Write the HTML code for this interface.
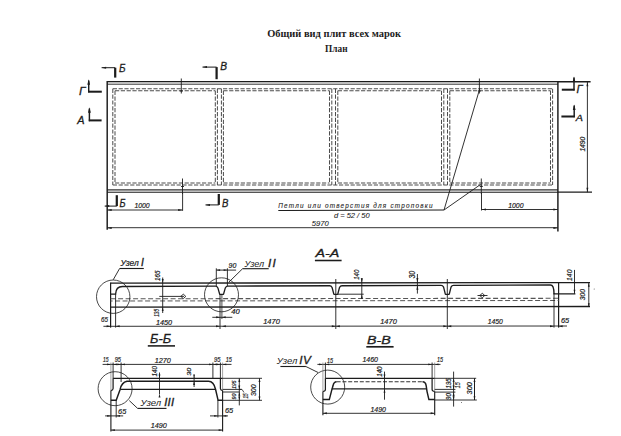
<!DOCTYPE html>
<html><head><meta charset="utf-8"><title>Общий вид плит всех марок</title>
<style>
html,body{margin:0;padding:0;background:#fff;}
body{width:621px;height:436px;overflow:hidden;font-family:"Liberation Sans",sans-serif;}
svg{display:block;}

</style></head>
<body>
<svg width="621" height="436" viewBox="0 0 621 436">
<text x="267.2" y="36.7" font-family="Liberation Serif" font-style="normal" font-weight="bold" font-size="10" fill="#1c1c1c" textLength="133.8" lengthAdjust="spacingAndGlyphs">Общий вид плит всех марок</text>
<text x="325.1" y="51.7" font-family="Liberation Serif" font-style="normal" font-weight="bold" font-size="10.16" fill="#1c1c1c" textLength="22.4" lengthAdjust="spacingAndGlyphs">План</text>
<line x1="107.2" y1="81.7" x2="590.6" y2="81.7" stroke="#1c1c1c" stroke-width="1.57"/>
<line x1="107.2" y1="84.2" x2="557.9" y2="84.2" stroke="#444" stroke-width="1.34"/>
<rect x="107.2" y="82.3" width="450.7" height="1.3" fill="#cfcfcf"/>
<line x1="107.2" y1="190" x2="557.9" y2="190" stroke="#333" stroke-width="1.34"/>
<line x1="107.2" y1="192.2" x2="592" y2="192.2" stroke="#1c1c1c" stroke-width="1.34"/>
<rect x="107.2" y="190.6" width="450.7" height="1" fill="#dddddd"/>
<line x1="107.2" y1="81.1" x2="107.2" y2="229.8" stroke="#1c1c1c" stroke-width="1.46"/>
<line x1="557.9" y1="81.1" x2="557.9" y2="231.5" stroke="#1c1c1c" stroke-width="1.46"/>
<line x1="112.8" y1="88.8" x2="552.6" y2="88.8" stroke="#4c4c4c" stroke-width="1.01" stroke-dasharray="4.2 1.6"/>
<line x1="112.8" y1="185" x2="552.6" y2="185" stroke="#4c4c4c" stroke-width="1.01" stroke-dasharray="4.2 1.6"/>
<line x1="112.8" y1="88.8" x2="112.8" y2="185" stroke="#4c4c4c" stroke-width="1.01" stroke-dasharray="4.2 1.6"/>
<line x1="552.6" y1="88.8" x2="552.6" y2="185" stroke="#4c4c4c" stroke-width="1.01" stroke-dasharray="4.2 1.6"/>
<line x1="115" y1="90.7" x2="215.3" y2="90.7" stroke="#4c4c4c" stroke-width="1.01" stroke-dasharray="4.2 1.6"/>
<line x1="115" y1="183" x2="215.3" y2="183" stroke="#4c4c4c" stroke-width="1.01" stroke-dasharray="4.2 1.6"/>
<line x1="115" y1="90.7" x2="115" y2="183" stroke="#4c4c4c" stroke-width="1.01" stroke-dasharray="4.2 1.6"/>
<line x1="215.3" y1="90.7" x2="215.3" y2="183" stroke="#4c4c4c" stroke-width="1.01" stroke-dasharray="4.2 1.6"/>
<line x1="223.4" y1="90.7" x2="329.5" y2="90.7" stroke="#4c4c4c" stroke-width="1.01" stroke-dasharray="4.2 1.6"/>
<line x1="223.4" y1="183" x2="329.5" y2="183" stroke="#4c4c4c" stroke-width="1.01" stroke-dasharray="4.2 1.6"/>
<line x1="223.4" y1="90.7" x2="223.4" y2="183" stroke="#4c4c4c" stroke-width="1.01" stroke-dasharray="4.2 1.6"/>
<line x1="329.5" y1="90.7" x2="329.5" y2="183" stroke="#4c4c4c" stroke-width="1.01" stroke-dasharray="4.2 1.6"/>
<line x1="337.8" y1="90.7" x2="441.5" y2="90.7" stroke="#4c4c4c" stroke-width="1.01" stroke-dasharray="4.2 1.6"/>
<line x1="337.8" y1="183" x2="441.5" y2="183" stroke="#4c4c4c" stroke-width="1.01" stroke-dasharray="4.2 1.6"/>
<line x1="337.8" y1="90.7" x2="337.8" y2="183" stroke="#4c4c4c" stroke-width="1.01" stroke-dasharray="4.2 1.6"/>
<line x1="441.5" y1="90.7" x2="441.5" y2="183" stroke="#4c4c4c" stroke-width="1.01" stroke-dasharray="4.2 1.6"/>
<line x1="449.8" y1="90.7" x2="550.5" y2="90.7" stroke="#4c4c4c" stroke-width="1.01" stroke-dasharray="4.2 1.6"/>
<line x1="449.8" y1="183" x2="550.5" y2="183" stroke="#4c4c4c" stroke-width="1.01" stroke-dasharray="4.2 1.6"/>
<line x1="449.8" y1="90.7" x2="449.8" y2="183" stroke="#4c4c4c" stroke-width="1.01" stroke-dasharray="4.2 1.6"/>
<line x1="550.5" y1="90.7" x2="550.5" y2="183" stroke="#4c4c4c" stroke-width="1.01" stroke-dasharray="4.2 1.6"/>
<line x1="217.4" y1="88.8" x2="217.4" y2="185" stroke="#4c4c4c" stroke-width="1.01" stroke-dasharray="4.2 1.6"/>
<line x1="221.4" y1="88.8" x2="221.4" y2="185" stroke="#4c4c4c" stroke-width="1.01" stroke-dasharray="4.2 1.6"/>
<line x1="331.8" y1="88.8" x2="331.8" y2="185" stroke="#4c4c4c" stroke-width="1.01" stroke-dasharray="4.2 1.6"/>
<line x1="335.5" y1="88.8" x2="335.5" y2="185" stroke="#4c4c4c" stroke-width="1.01" stroke-dasharray="4.2 1.6"/>
<line x1="443.8" y1="88.8" x2="443.8" y2="185" stroke="#4c4c4c" stroke-width="1.01" stroke-dasharray="4.2 1.6"/>
<line x1="447.5" y1="88.8" x2="447.5" y2="185" stroke="#4c4c4c" stroke-width="1.01" stroke-dasharray="4.2 1.6"/>
<line x1="181.3" y1="78.5" x2="181.3" y2="93.5" stroke="#1c1c1c" stroke-width="0.9"/>
<line x1="179.8" y1="91" x2="182.8" y2="91" stroke="#1c1c1c" stroke-width="0.9"/>
<line x1="479.4" y1="78.5" x2="479.4" y2="93.5" stroke="#1c1c1c" stroke-width="0.9"/>
<line x1="477.9" y1="91" x2="480.9" y2="91" stroke="#1c1c1c" stroke-width="0.9"/>
<line x1="182.5" y1="178.5" x2="182.5" y2="194" stroke="#1c1c1c" stroke-width="0.9"/>
<line x1="181" y1="186.5" x2="184" y2="186.5" stroke="#1c1c1c" stroke-width="0.9"/>
<line x1="481.3" y1="178.5" x2="481.3" y2="194" stroke="#1c1c1c" stroke-width="0.9"/>
<line x1="479.8" y1="186.5" x2="482.8" y2="186.5" stroke="#1c1c1c" stroke-width="0.9"/>
<line x1="101.6" y1="67.7" x2="115.2" y2="67.7" stroke="#1c1c1c" stroke-width="1.01"/>
<polygon points="101.6,67.7 106.1,66.7 106.1,68.7" fill="#1c1c1c"/>
<line x1="115.2" y1="67.7" x2="115.2" y2="77.6" stroke="#1c1c1c" stroke-width="2.24"/>
<text x="119" y="71.5" font-family="Liberation Sans" font-style="italic" font-weight="normal" font-size="11.81" fill="#1c1c1c" stroke="#1c1c1c" stroke-width="0.3" textLength="6.6" lengthAdjust="spacingAndGlyphs">Б</text>
<line x1="202.5" y1="67.1" x2="216.6" y2="67.1" stroke="#1c1c1c" stroke-width="1.01"/>
<polygon points="202.5,67.1 207,66.1 207,68.1" fill="#1c1c1c"/>
<line x1="216.6" y1="67.1" x2="216.6" y2="79.2" stroke="#1c1c1c" stroke-width="2.24"/>
<text x="220.2" y="70.3" font-family="Liberation Sans" font-style="italic" font-weight="normal" font-size="11.25" fill="#1c1c1c" stroke="#1c1c1c" stroke-width="0.3" textLength="6.8" lengthAdjust="spacingAndGlyphs">В</text>
<line x1="116.8" y1="195.2" x2="116.8" y2="206.1" stroke="#1c1c1c" stroke-width="2.24"/>
<line x1="104.7" y1="206.1" x2="116.8" y2="206.1" stroke="#1c1c1c" stroke-width="1.01"/>
<polygon points="104.7,206.1 109.2,205.1 109.2,207.1" fill="#1c1c1c"/>
<text x="119.6" y="206.9" font-family="Liberation Sans" font-style="italic" font-weight="normal" font-size="11.53" fill="#1c1c1c" stroke="#1c1c1c" stroke-width="0.3" textLength="6.1" lengthAdjust="spacingAndGlyphs">Б</text>
<line x1="218.8" y1="194" x2="218.8" y2="204.9" stroke="#1c1c1c" stroke-width="2.24"/>
<line x1="205.5" y1="204.9" x2="218.8" y2="204.9" stroke="#1c1c1c" stroke-width="1.01"/>
<polygon points="205.5,204.9 210,203.9 210,205.9" fill="#1c1c1c"/>
<text x="222" y="207.3" font-family="Liberation Sans" font-style="italic" font-weight="normal" font-size="11.67" fill="#1c1c1c" stroke="#1c1c1c" stroke-width="0.3" textLength="6.4" lengthAdjust="spacingAndGlyphs">В</text>
<line x1="88.7" y1="80.5" x2="88.7" y2="92.4" stroke="#1c1c1c" stroke-width="1.46"/>
<polygon points="88.7,79.2 87.3,84.7 90.1,84.7" fill="#1c1c1c"/>
<line x1="88.1" y1="91.7" x2="101.8" y2="91.7" stroke="#1c1c1c" stroke-width="2.02"/>
<text x="78.9" y="94.6" font-family="Liberation Sans" font-style="italic" font-weight="normal" font-size="11.11" fill="#1c1c1c" stroke="#1c1c1c" stroke-width="0.3" textLength="6.4" lengthAdjust="spacingAndGlyphs">Г</text>
<line x1="89.4" y1="108.5" x2="89.4" y2="121.2" stroke="#1c1c1c" stroke-width="1.46"/>
<polygon points="89.4,107.3 88,112.8 90.8,112.8" fill="#1c1c1c"/>
<line x1="88.8" y1="120.4" x2="101.6" y2="120.4" stroke="#1c1c1c" stroke-width="2.02"/>
<text x="77.2" y="124.4" font-family="Liberation Sans" font-style="italic" font-weight="normal" font-size="11.11" fill="#1c1c1c" stroke="#1c1c1c" stroke-width="0.3" textLength="7.3" lengthAdjust="spacingAndGlyphs">А</text>
<line x1="574" y1="77.5" x2="574" y2="90.5" stroke="#1c1c1c" stroke-width="1.46"/>
<polygon points="574,76.4 572.6,81.9 575.4,81.9" fill="#1c1c1c"/>
<line x1="561.8" y1="89.7" x2="574.6" y2="89.7" stroke="#1c1c1c" stroke-width="2.02"/>
<text x="576.5" y="93" font-family="Liberation Sans" font-style="italic" font-weight="normal" font-size="11.11" fill="#1c1c1c" stroke="#1c1c1c" stroke-width="0.3" textLength="6" lengthAdjust="spacingAndGlyphs">Г</text>
<line x1="574.2" y1="105.5" x2="574.2" y2="117.3" stroke="#1c1c1c" stroke-width="1.46"/>
<polygon points="574.2,104.4 572.8,109.9 575.6,109.9" fill="#1c1c1c"/>
<line x1="561.4" y1="116.5" x2="574.8" y2="116.5" stroke="#1c1c1c" stroke-width="2.02"/>
<text x="575.8" y="120.6" font-family="Liberation Sans" font-style="italic" font-weight="normal" font-size="9.44" fill="#1c1c1c" stroke="#1c1c1c" stroke-width="0.3" textLength="7.2" lengthAdjust="spacingAndGlyphs">А</text>
<line x1="587.4" y1="81.7" x2="587.4" y2="192.2" stroke="#1c1c1c" stroke-width="0.9"/>
<polygon points="587.4,81.7 586.45,86.2 588.35,86.2" fill="#1c1c1c"/>
<polygon points="587.4,192.2 586.45,187.7 588.35,187.7" fill="#1c1c1c"/>
<text transform="translate(585 151.6) rotate(-90)" x="0" y="0" font-family="Liberation Sans" font-style="italic" font-weight="normal" font-size="6.94" fill="#1c1c1c" stroke="#1c1c1c" stroke-width="0.2" textLength="14.9" lengthAdjust="spacingAndGlyphs">1490</text>
<line x1="182.6" y1="193" x2="182.6" y2="210.8" stroke="#1c1c1c" stroke-width="0.9"/>
<line x1="107.2" y1="210" x2="182.6" y2="210" stroke="#1c1c1c" stroke-width="0.9"/>
<polygon points="107.2,210 111.7,209.05 111.7,210.95" fill="#1c1c1c"/>
<polygon points="182.6,210 178.1,209.05 178.1,210.95" fill="#1c1c1c"/>
<text x="134.4" y="207.7" font-family="Liberation Sans" font-style="italic" font-weight="normal" font-size="7.92" fill="#1c1c1c" stroke="#1c1c1c" stroke-width="0.2" textLength="15.3" lengthAdjust="spacingAndGlyphs">1000</text>
<line x1="481.5" y1="193" x2="481.5" y2="210.5" stroke="#1c1c1c" stroke-width="0.9"/>
<line x1="481.5" y1="209.5" x2="557.9" y2="209.5" stroke="#1c1c1c" stroke-width="0.9"/>
<polygon points="481.5,209.5 486,208.55 486,210.45" fill="#1c1c1c"/>
<polygon points="557.9,209.5 553.4,208.55 553.4,210.45" fill="#1c1c1c"/>
<text x="508.2" y="207.7" font-family="Liberation Sans" font-style="italic" font-weight="normal" font-size="7.92" fill="#1c1c1c" stroke="#1c1c1c" stroke-width="0.2" textLength="15.3" lengthAdjust="spacingAndGlyphs">1000</text>
<line x1="107.2" y1="227.7" x2="557.9" y2="227.7" stroke="#1c1c1c" stroke-width="0.9"/>
<polygon points="107.2,228 111.7,227.05 111.7,228.95" fill="#1c1c1c"/>
<polygon points="557.9,228 553.4,227.05 553.4,228.95" fill="#1c1c1c"/>
<text x="311.8" y="225.9" font-family="Liberation Sans" font-style="italic" font-weight="normal" font-size="8.06" fill="#1c1c1c" stroke="#1c1c1c" stroke-width="0.1" textLength="17.1" lengthAdjust="spacingAndGlyphs">5970</text>
<text x="278.3" y="207.6" font-family="Liberation Sans" font-style="italic" font-weight="normal" font-size="6.39" fill="#1c1c1c" stroke="#1c1c1c" stroke-width="0.1" textLength="154.2" lengthAdjust="spacing">Петли или отверстия для строповки</text>
<line x1="278.3" y1="210.5" x2="444" y2="210" stroke="#1c1c1c" stroke-width="1.01"/>
<line x1="444" y1="210" x2="479.8" y2="88.5" stroke="#1c1c1c" stroke-width="0.9"/>
<line x1="444" y1="210" x2="480.5" y2="184.5" stroke="#1c1c1c" stroke-width="0.9"/>
<text x="333.9" y="217.7" font-family="Liberation Sans" font-style="italic" font-weight="normal" font-size="7.36" fill="#1c1c1c" stroke="#1c1c1c" stroke-width="0.1" textLength="35.8" lengthAdjust="spacingAndGlyphs">d = 52 / 50</text>
<line x1="110.6" y1="283.2" x2="590" y2="282.6" stroke="#1c1c1c" stroke-width="1.34"/>
<line x1="110.6" y1="307.2" x2="590" y2="306.5" stroke="#1c1c1c" stroke-width="1.34"/>
<line x1="110.6" y1="282.5" x2="110.6" y2="327.6" stroke="#1c1c1c" stroke-width="1.23"/>
<line x1="558.6" y1="282.2" x2="558.6" y2="327.6" stroke="#1c1c1c" stroke-width="1.23"/>
<path d="M 110.6 294.1 L 115.6 294.1 Q 115.8 286.48 122.5 286.46 L 215.4 286.13 Q 217 286.13 217.9 287.93 L 219.5 293.6 Q 219.6 294.3 220 294.3 L 223.2 294.3 Q 223.6 294.3 223.7 293.6 L 225.3 287.93 Q 226.2 286.13 227.8 286.13 L 329.6 285.74 Q 331.2 285.74 332.1 287.54 L 333.7 293.6 Q 333.8 294.3 334.2 294.3 L 337.4 294.3 Q 337.8 294.3 337.9 293.6 L 339.5 287.54 Q 340.4 285.74 342 285.74 L 441.1 285.37 Q 442.7 285.37 443.6 287.17 L 445.2 293.6 Q 445.3 294.3 445.7 294.3 L 448.9 294.3 Q 449.3 294.3 449.4 293.6 L 451 287.17 Q 451.9 285.37 453.5 285.37 L 550.5 285.03 Q 554 285.03 554 293.8 L 575.4 293.8" stroke="#1c1c1c" stroke-width="1.34" fill="none"/>
<line x1="110.6" y1="298.8" x2="558.6" y2="298.3" stroke="#555" stroke-width="1.12" stroke-dasharray="5 2.5"/>
<line x1="110.6" y1="301.0" x2="558.6" y2="300.5" stroke="#555" stroke-width="1" stroke-dasharray="5 2.5" stroke-dashoffset="3"/>
<line x1="115.6" y1="294" x2="115.6" y2="327.6" stroke="#1c1c1c" stroke-width="0.9"/>
<line x1="554" y1="293" x2="554" y2="327.6" stroke="#1c1c1c" stroke-width="0.9"/>
<line x1="220" y1="294" x2="220" y2="329" stroke="#1c1c1c" stroke-width="0.9"/>
<line x1="221.9" y1="294" x2="221.9" y2="319" stroke="#1c1c1c" stroke-width="0.78"/>
<line x1="335.8" y1="279" x2="335.8" y2="329" stroke="#1c1c1c" stroke-width="0.9"/>
<line x1="447.3" y1="279" x2="447.3" y2="329" stroke="#1c1c1c" stroke-width="0.9"/>
<line x1="216.3" y1="268.3" x2="216.3" y2="286" stroke="#1c1c1c" stroke-width="0.9"/>
<line x1="227.4" y1="268.3" x2="227.4" y2="286" stroke="#1c1c1c" stroke-width="0.9"/>
<line x1="216.3" y1="270.1" x2="236.1" y2="270.1" stroke="#1c1c1c" stroke-width="0.9"/>
<polygon points="216.3,270.1 220.1,269.15 220.1,271.05" fill="#1c1c1c"/>
<polygon points="227.4,270.1 223.6,269.15 223.6,271.05" fill="#1c1c1c"/>
<text x="228.6" y="267.8" font-family="Liberation Sans" font-style="italic" font-weight="normal" font-size="7.22" fill="#1c1c1c" stroke="#1c1c1c" stroke-width="0.2" textLength="7.7" lengthAdjust="spacingAndGlyphs">90</text>
<line x1="212.3" y1="317.3" x2="232.3" y2="317.3" stroke="#1c1c1c" stroke-width="0.9"/>
<polygon points="220,317.3 216.2,316.35 216.2,318.25" fill="#1c1c1c"/>
<polygon points="221.9,317.3 225.7,316.35 225.7,318.25" fill="#1c1c1c"/>
<text x="231.2" y="313.9" font-family="Liberation Sans" font-style="italic" font-weight="normal" font-size="6.39" fill="#1c1c1c" stroke="#1c1c1c" stroke-width="0.2" textLength="8.4" lengthAdjust="spacingAndGlyphs">40</text>
<circle cx="113.2" cy="296.7" r="16.7" stroke="#1c1c1c" stroke-width="0.8" fill="none"/>
<circle cx="221.5" cy="294.8" r="17" stroke="#1c1c1c" stroke-width="0.8" fill="none"/>
<line x1="119.6" y1="268.5" x2="143.8" y2="268.5" stroke="#1c1c1c" stroke-width="1.12"/>
<line x1="119.6" y1="268.5" x2="113.2" y2="279.8" stroke="#1c1c1c" stroke-width="0.9"/>
<text x="120.4" y="265.8" font-family="Liberation Sans" font-style="italic" font-weight="normal" font-size="8.19" fill="#1c1c1c" stroke="#1c1c1c" stroke-width="0.2" textLength="18.3" lengthAdjust="spacingAndGlyphs">Узел</text>
<text x="141" y="265.8" font-family="Liberation Sans" font-style="italic" font-weight="normal" font-size="10.28" fill="#1c1c1c" stroke="#1c1c1c" stroke-width="0.35" textLength="3.6" lengthAdjust="spacing">I</text>
<line x1="242.6" y1="268.7" x2="268.7" y2="268.7" stroke="#1c1c1c" stroke-width="1.12"/>
<line x1="242.6" y1="268.7" x2="228.9" y2="282.1" stroke="#1c1c1c" stroke-width="0.9"/>
<text x="244.5" y="266.6" font-family="Liberation Sans" font-style="italic" font-weight="normal" font-size="9.44" fill="#1c1c1c" textLength="19.7" lengthAdjust="spacingAndGlyphs">Узел</text>
<text x="268" y="266.9" font-family="Liberation Sans" font-style="italic" font-weight="normal" font-size="11.67" fill="#1c1c1c" stroke="#1c1c1c" stroke-width="0.35" textLength="7.8" lengthAdjust="spacing">II</text>
<text x="315.5" y="256.8" font-family="Liberation Sans" font-style="italic" font-weight="normal" font-size="10.97" fill="#1c1c1c" stroke="#1c1c1c" stroke-width="0.3" textLength="23.8" lengthAdjust="spacingAndGlyphs">А-А</text>
<line x1="314.9" y1="260.5" x2="341.6" y2="260.5" stroke="#1c1c1c" stroke-width="1.57"/>
<line x1="162.7" y1="277.5" x2="162.7" y2="313" stroke="#1c1c1c" stroke-width="0.9"/>
<polygon points="162.7,283 161.75,279 163.65,279" fill="#1c1c1c"/>
<polygon points="162.7,307 161.75,311 163.65,311" fill="#1c1c1c"/>
<line x1="159.3" y1="296.4" x2="184" y2="296.4" stroke="#1c1c1c" stroke-width="0.9"/>
<path d="M 180.8 296.4 L 183.3 294.2 L 185.8 296.4 L 183.3 298.6 Z" stroke="#1c1c1c" stroke-width="0.9" fill="none"/>
<text transform="translate(159.9 280.9) rotate(-90)" x="0" y="0" font-family="Liberation Sans" font-style="italic" font-weight="normal" font-size="7.92" fill="#1c1c1c" stroke="#1c1c1c" stroke-width="0.2" textLength="10.3" lengthAdjust="spacingAndGlyphs">165</text>
<text transform="translate(159 316.8) rotate(-90)" x="0" y="0" font-family="Liberation Sans" font-style="italic" font-weight="normal" font-size="6.81" fill="#1c1c1c" stroke="#1c1c1c" stroke-width="0.2" textLength="7.8" lengthAdjust="spacingAndGlyphs">135</text>
<path d="M 479.8 295.5 L 482.3 293.3 L 484.8 295.5 L 482.3 297.7 Z" stroke="#1c1c1c" stroke-width="0.9" fill="none"/>
<line x1="477.5" y1="295.5" x2="487.5" y2="295.5" stroke="#1c1c1c" stroke-width="0.9"/>
<line x1="337.8" y1="294.2" x2="363.7" y2="294.2" stroke="#1c1c1c" stroke-width="0.9"/>
<line x1="361.8" y1="278.1" x2="361.8" y2="298.1" stroke="#1c1c1c" stroke-width="0.9"/>
<polygon points="361.8,282.8 360.8,278.3 362.8,278.3" fill="#1c1c1c"/>
<polygon points="361.8,294.2 360.8,298.7 362.8,298.7" fill="#1c1c1c"/>
<text transform="translate(359 279.8) rotate(-90)" x="0" y="0" font-family="Liberation Sans" font-style="italic" font-weight="normal" font-size="7.92" fill="#1c1c1c" stroke="#1c1c1c" stroke-width="0.2" textLength="10.1" lengthAdjust="spacingAndGlyphs">140</text>
<line x1="417.4" y1="274" x2="417.4" y2="293.6" stroke="#1c1c1c" stroke-width="0.9"/>
<polygon points="417.4,282.6 416.4,278.1 418.4,278.1" fill="#1c1c1c"/>
<polygon points="417.4,285.2 416.4,289.7 418.4,289.7" fill="#1c1c1c"/>
<text transform="translate(415 278.6) rotate(-90)" x="0" y="0" font-family="Liberation Sans" font-style="italic" font-weight="normal" font-size="8.33" fill="#1c1c1c" stroke="#1c1c1c" stroke-width="0.2" textLength="7.8" lengthAdjust="spacingAndGlyphs">30</text>
<line x1="574.5" y1="269.9" x2="574.5" y2="293.8" stroke="#1c1c1c" stroke-width="0.9"/>
<polygon points="574.5,293.8 573.55,289.8 575.45,289.8" fill="#1c1c1c"/>
<text transform="translate(572.2 280.9) rotate(-90)" x="0" y="0" font-family="Liberation Sans" font-style="italic" font-weight="normal" font-size="7.78" fill="#1c1c1c" stroke="#1c1c1c" stroke-width="0.2" textLength="11.3" lengthAdjust="spacingAndGlyphs">140</text>
<line x1="588.8" y1="283" x2="588.8" y2="307" stroke="#1c1c1c" stroke-width="0.9"/>
<polygon points="588.8,283 587.85,286.8 589.75,286.8" fill="#1c1c1c"/>
<polygon points="588.8,307 587.85,303.2 589.75,303.2" fill="#1c1c1c"/>
<text transform="translate(585 300.2) rotate(-90)" x="0" y="0" font-family="Liberation Sans" font-style="italic" font-weight="normal" font-size="6.67" fill="#1c1c1c" stroke="#1c1c1c" stroke-width="0.2" textLength="11.3" lengthAdjust="spacingAndGlyphs">300</text>
<circle cx="594.2" cy="289" r="0.5" fill="#555"/>
<line x1="103.4" y1="326.3" x2="567" y2="326" stroke="#1c1c1c" stroke-width="0.9"/>
<polygon points="110.6,326.3 106.6,325.35 106.6,327.25" fill="#1c1c1c"/>
<polygon points="115.6,326.3 119.6,325.35 119.6,327.25" fill="#1c1c1c"/>
<polygon points="220,326.3 216,325.35 216,327.25" fill="#1c1c1c"/>
<polygon points="221.9,326.3 225.9,325.35 225.9,327.25" fill="#1c1c1c"/>
<polygon points="335.8,326.3 331.8,325.35 331.8,327.25" fill="#1c1c1c"/>
<polygon points="335.8,326.3 339.8,325.35 339.8,327.25" fill="#1c1c1c"/>
<polygon points="447.3,326.3 443.3,325.35 443.3,327.25" fill="#1c1c1c"/>
<polygon points="447.3,326.3 451.3,325.35 451.3,327.25" fill="#1c1c1c"/>
<polygon points="554,326.3 550,325.35 550,327.25" fill="#1c1c1c"/>
<polygon points="558.6,326.3 562.6,325.35 562.6,327.25" fill="#1c1c1c"/>
<text x="101" y="321.8" font-family="Liberation Sans" font-style="italic" font-weight="normal" font-size="6.94" fill="#1c1c1c" stroke="#1c1c1c" stroke-width="0.2" textLength="6.9" lengthAdjust="spacingAndGlyphs">65</text>
<text x="156" y="324.7" font-family="Liberation Sans" font-style="italic" font-weight="normal" font-size="6.81" fill="#1c1c1c" stroke="#1c1c1c" stroke-width="0.2" textLength="16.1" lengthAdjust="spacingAndGlyphs">1450</text>
<text x="263.2" y="323.7" font-family="Liberation Sans" font-style="italic" font-weight="normal" font-size="7.92" fill="#1c1c1c" stroke="#1c1c1c" stroke-width="0.2" textLength="16.7" lengthAdjust="spacingAndGlyphs">1470</text>
<text x="380.2" y="323.7" font-family="Liberation Sans" font-style="italic" font-weight="normal" font-size="7.92" fill="#1c1c1c" stroke="#1c1c1c" stroke-width="0.2" textLength="16.6" lengthAdjust="spacingAndGlyphs">1470</text>
<text x="487.8" y="323.7" font-family="Liberation Sans" font-style="italic" font-weight="normal" font-size="7.64" fill="#1c1c1c" stroke="#1c1c1c" stroke-width="0.2" textLength="15.1" lengthAdjust="spacingAndGlyphs">1450</text>
<text x="561" y="322.7" font-family="Liberation Sans" font-style="italic" font-weight="normal" font-size="7.64" fill="#1c1c1c" stroke="#1c1c1c" stroke-width="0.2" textLength="8.1" lengthAdjust="spacingAndGlyphs">65</text>
<text x="150.1" y="342.7" font-family="Liberation Sans" font-style="italic" font-weight="normal" font-size="12.08" fill="#1c1c1c" stroke="#1c1c1c" stroke-width="0.3" textLength="21.1" lengthAdjust="spacingAndGlyphs">Б-Б</text>
<line x1="147.8" y1="345.9" x2="175" y2="345.9" stroke="#1c1c1c" stroke-width="1.57"/>
<line x1="102.6" y1="364.4" x2="231.5" y2="364.4" stroke="#1c1c1c" stroke-width="0.9"/>
<polygon points="110.9,364.4 107.1,363.45 107.1,365.35" fill="#1c1c1c"/>
<polygon points="113.1,364.4 116.9,363.45 116.9,365.35" fill="#1c1c1c"/>
<polygon points="121.1,364.4 117.3,363.45 117.3,365.35" fill="#1c1c1c"/>
<polygon points="121.1,364.4 124.9,363.45 124.9,365.35" fill="#1c1c1c"/>
<polygon points="212.9,364.4 209.1,363.45 209.1,365.35" fill="#1c1c1c"/>
<polygon points="212.9,364.4 216.7,363.45 216.7,365.35" fill="#1c1c1c"/>
<polygon points="220.4,364.4 216.6,363.45 216.6,365.35" fill="#1c1c1c"/>
<polygon points="222.5,364.4 226.3,363.45 226.3,365.35" fill="#1c1c1c"/>
<text x="103" y="362.1" font-family="Liberation Sans" font-style="italic" font-weight="normal" font-size="6.81" fill="#1c1c1c" stroke="#1c1c1c" stroke-width="0.2" textLength="5.5" lengthAdjust="spacingAndGlyphs">15</text>
<text x="114.7" y="362.1" font-family="Liberation Sans" font-style="italic" font-weight="normal" font-size="6.81" fill="#1c1c1c" stroke="#1c1c1c" stroke-width="0.2" textLength="6.2" lengthAdjust="spacingAndGlyphs">95</text>
<text x="154.8" y="362.7" font-family="Liberation Sans" font-style="italic" font-weight="normal" font-size="7.92" fill="#1c1c1c" stroke="#1c1c1c" stroke-width="0.2" textLength="16.1" lengthAdjust="spacingAndGlyphs">1270</text>
<text x="214" y="362.3" font-family="Liberation Sans" font-style="italic" font-weight="normal" font-size="7.08" fill="#1c1c1c" stroke="#1c1c1c" stroke-width="0.2" textLength="6.3" lengthAdjust="spacingAndGlyphs">95</text>
<text x="225.7" y="362.3" font-family="Liberation Sans" font-style="italic" font-weight="normal" font-size="7.08" fill="#1c1c1c" stroke="#1c1c1c" stroke-width="0.2" textLength="6.1" lengthAdjust="spacingAndGlyphs">15</text>
<line x1="113.1" y1="362.5" x2="113.1" y2="378.3" stroke="#1c1c1c" stroke-width="0.9"/>
<line x1="121.1" y1="362.5" x2="121.1" y2="382" stroke="#1c1c1c" stroke-width="0.9"/>
<line x1="212.9" y1="362.5" x2="212.9" y2="378.3" stroke="#1c1c1c" stroke-width="0.9"/>
<line x1="220.4" y1="362.5" x2="220.4" y2="378.3" stroke="#1c1c1c" stroke-width="0.9"/>
<line x1="110.9" y1="362.5" x2="110.9" y2="390.5" stroke="#777" stroke-width="0.67"/>
<line x1="110.9" y1="390.5" x2="110.9" y2="431.5" stroke="#1c1c1c" stroke-width="1.12"/>
<line x1="222.6" y1="362.5" x2="222.6" y2="390.5" stroke="#777" stroke-width="0.67"/>
<line x1="222.6" y1="390.5" x2="222.6" y2="431.5" stroke="#1c1c1c" stroke-width="1.12"/>
<line x1="113.1" y1="378.3" x2="222.6" y2="378.3" stroke="#1c1c1c" stroke-width="1.34"/>
<line x1="222.6" y1="378.3" x2="262" y2="378.3" stroke="#1c1c1c" stroke-width="0.9"/>
<path d="M 113.1 378.3 L 113.1 388.5 Q 113.1 390.3 110.9 390.6" stroke="#1c1c1c" stroke-width="1.23" fill="none"/>
<path d="M 220.4 378.3 L 220.4 388.5 Q 220.4 390.3 222.6 390.6" stroke="#1c1c1c" stroke-width="1.23" fill="none"/>
<path d="M 110.9 400.3 L 116.2 400.3 L 120.2 389.2 Q 121.6 382.5 127 381.3 L 208.5 381.3 Q 213.8 381.3 215.6 389.5 L 218.1 400.3 L 222.6 400.3" stroke="#1c1c1c" stroke-width="1.46" fill="none"/>
<line x1="120.2" y1="389.3" x2="215.6" y2="389.3" stroke="#1c1c1c" stroke-width="1.34"/>
<circle cx="115.1" cy="388.7" r="17" stroke="#1c1c1c" stroke-width="0.8" fill="none"/>
<text x="140.5" y="406.3" font-family="Liberation Sans" font-style="italic" font-weight="normal" font-size="9.44" fill="#1c1c1c" textLength="20.7" lengthAdjust="spacingAndGlyphs">Узел</text>
<text x="164.2" y="406.3" font-family="Liberation Sans" font-style="italic" font-weight="normal" font-size="11.25" fill="#1c1c1c" stroke="#1c1c1c" stroke-width="0.35" textLength="9.9" lengthAdjust="spacing">III</text>
<line x1="137.6" y1="408.4" x2="166.5" y2="408.4" stroke="#1c1c1c" stroke-width="1.12"/>
<line x1="137.6" y1="408.4" x2="129.3" y2="400.6" stroke="#1c1c1c" stroke-width="0.9"/>
<line x1="159.5" y1="372.5" x2="159.5" y2="394.3" stroke="#1c1c1c" stroke-width="0.9"/>
<polygon points="159.5,378.3 158.55,374.5 160.45,374.5" fill="#1c1c1c"/>
<polygon points="159.5,393.8 158.55,397.6 160.45,397.6" fill="#1c1c1c"/>
<text transform="translate(157.4 376.6) rotate(-90)" x="0" y="0" font-family="Liberation Sans" font-style="italic" font-weight="normal" font-size="7.22" fill="#1c1c1c" stroke="#1c1c1c" stroke-width="0.2" textLength="10.5" lengthAdjust="spacingAndGlyphs">140</text>
<line x1="194.1" y1="376.6" x2="194.1" y2="387" stroke="#1c1c1c" stroke-width="0.9"/>
<polygon points="194.1,378.3 193.15,374.5 195.05,374.5" fill="#1c1c1c"/>
<polygon points="194.1,381.3 193.15,385.1 195.05,385.1" fill="#1c1c1c"/>
<text transform="translate(190.9 375.8) rotate(-90)" x="0" y="0" font-family="Liberation Sans" font-style="italic" font-weight="normal" font-size="5.69" fill="#1c1c1c" stroke="#1c1c1c" stroke-width="0.2" textLength="8.1" lengthAdjust="spacingAndGlyphs">30</text>
<line x1="222.6" y1="389.4" x2="241.6" y2="389.4" stroke="#1c1c1c" stroke-width="0.9"/>
<line x1="222.6" y1="392" x2="239.4" y2="392" stroke="#1c1c1c" stroke-width="0.9"/>
<line x1="222.6" y1="400.3" x2="262" y2="400.3" stroke="#1c1c1c" stroke-width="0.9"/>
<line x1="239.3" y1="378.3" x2="239.3" y2="405.4" stroke="#1c1c1c" stroke-width="0.9"/>
<polygon points="239.3,378.3 238.35,382.1 240.25,382.1" fill="#1c1c1c"/>
<polygon points="239.3,389.4 238.35,385.6 240.25,385.6" fill="#1c1c1c"/>
<polygon points="239.3,392 238.35,395.8 240.25,395.8" fill="#1c1c1c"/>
<polygon points="239.3,400.3 238.35,396.5 240.25,396.5" fill="#1c1c1c"/>
<line x1="259.5" y1="378.3" x2="259.5" y2="400.3" stroke="#1c1c1c" stroke-width="0.9"/>
<polygon points="259.5,378.3 258.55,382.1 260.45,382.1" fill="#1c1c1c"/>
<polygon points="259.5,400.3 258.55,396.5 260.45,396.5" fill="#1c1c1c"/>
<line x1="239.3" y1="389.4" x2="242" y2="389.4" stroke="#1c1c1c" stroke-width="0.78"/>
<line x1="242" y1="389.4" x2="244" y2="392.5" stroke="#1c1c1c" stroke-width="0.78"/>
<text transform="translate(235.6 388.7) rotate(-90)" x="0" y="0" font-family="Liberation Sans" font-style="italic" font-weight="normal" font-size="5.14" fill="#1c1c1c" stroke="#1c1c1c" stroke-width="0.2" textLength="8.1" lengthAdjust="spacingAndGlyphs">195</text>
<text transform="translate(235.6 399.4) rotate(-90)" x="0" y="0" font-family="Liberation Sans" font-style="italic" font-weight="normal" font-size="5.14" fill="#1c1c1c" stroke="#1c1c1c" stroke-width="0.2" textLength="5.9" lengthAdjust="spacingAndGlyphs">90</text>
<text transform="translate(248 398.6) rotate(-90)" x="0" y="0" font-family="Liberation Sans" font-style="italic" font-weight="normal" font-size="7.08" fill="#1c1c1c" stroke="#1c1c1c" stroke-width="0.2" textLength="5.1" lengthAdjust="spacingAndGlyphs">15</text>
<text transform="translate(256.1 396.1) rotate(-90)" x="0" y="0" font-family="Liberation Sans" font-style="italic" font-weight="normal" font-size="6.53" fill="#1c1c1c" stroke="#1c1c1c" stroke-width="0.2" textLength="11.8" lengthAdjust="spacingAndGlyphs">300</text>
<line x1="116.2" y1="400.3" x2="116.2" y2="417.5" stroke="#1c1c1c" stroke-width="0.9"/>
<line x1="217.9" y1="400.3" x2="217.9" y2="417.5" stroke="#1c1c1c" stroke-width="0.9"/>
<line x1="105.1" y1="415.9" x2="123.2" y2="415.9" stroke="#1c1c1c" stroke-width="0.9"/>
<polygon points="110.9,415.9 107.1,414.95 107.1,416.85" fill="#1c1c1c"/>
<polygon points="116.2,415.9 120,414.95 120,416.85" fill="#1c1c1c"/>
<text x="118.1" y="413.7" font-family="Liberation Sans" font-style="italic" font-weight="normal" font-size="7.92" fill="#1c1c1c" stroke="#1c1c1c" stroke-width="0.2" textLength="8.1" lengthAdjust="spacingAndGlyphs">65</text>
<line x1="210" y1="415.9" x2="228" y2="415.9" stroke="#1c1c1c" stroke-width="0.9"/>
<polygon points="217.9,415.9 214.1,414.95 214.1,416.85" fill="#1c1c1c"/>
<polygon points="222.6,415.9 226.4,414.95 226.4,416.85" fill="#1c1c1c"/>
<text x="225" y="412.7" font-family="Liberation Sans" font-style="italic" font-weight="normal" font-size="7.78" fill="#1c1c1c" stroke="#1c1c1c" stroke-width="0.2" textLength="8.2" lengthAdjust="spacingAndGlyphs">65</text>
<line x1="110.9" y1="430.1" x2="222.6" y2="430.1" stroke="#1c1c1c" stroke-width="0.9"/>
<polygon points="110.9,430.1 114.9,429.15 114.9,431.05" fill="#1c1c1c"/>
<polygon points="222.6,430.1 218.6,429.15 218.6,431.05" fill="#1c1c1c"/>
<text x="150.8" y="427.7" font-family="Liberation Sans" font-style="italic" font-weight="normal" font-size="7.92" fill="#1c1c1c" stroke="#1c1c1c" stroke-width="0.2" textLength="16.1" lengthAdjust="spacingAndGlyphs">1490</text>
<text x="366.9" y="343.6" font-family="Liberation Sans" font-style="italic" font-weight="normal" font-size="11.67" fill="#1c1c1c" stroke="#1c1c1c" stroke-width="0.3" textLength="23.8" lengthAdjust="spacingAndGlyphs">В-В</text>
<line x1="366.3" y1="346.8" x2="393.6" y2="346.8" stroke="#1c1c1c" stroke-width="1.68"/>
<text x="276.8" y="364.1" font-family="Liberation Sans" font-style="italic" font-weight="normal" font-size="9.44" fill="#1c1c1c" textLength="20.6" lengthAdjust="spacingAndGlyphs">Узел</text>
<text x="299.2" y="363.7" font-family="Liberation Sans" font-style="italic" font-weight="normal" font-size="11.81" fill="#1c1c1c" stroke="#1c1c1c" stroke-width="0.35" textLength="11.7" lengthAdjust="spacing">IV</text>
<line x1="280.4" y1="366.5" x2="305.9" y2="366.5" stroke="#1c1c1c" stroke-width="1.12"/>
<line x1="305.9" y1="366.5" x2="318.1" y2="372.5" stroke="#1c1c1c" stroke-width="0.9"/>
<circle cx="327.7" cy="387.1" r="17" stroke="#1c1c1c" stroke-width="0.8" fill="none"/>
<line x1="317.4" y1="364.4" x2="440.5" y2="364.4" stroke="#1c1c1c" stroke-width="0.9"/>
<polygon points="322.9,364.4 319.1,363.45 319.1,365.35" fill="#1c1c1c"/>
<polygon points="325.4,364.4 329.2,363.45 329.2,365.35" fill="#1c1c1c"/>
<polygon points="432.1,364.4 428.3,363.45 428.3,365.35" fill="#1c1c1c"/>
<polygon points="434.7,364.4 438.5,363.45 438.5,365.35" fill="#1c1c1c"/>
<text x="327.1" y="362.6" font-family="Liberation Sans" font-style="italic" font-weight="normal" font-size="7.78" fill="#1c1c1c" stroke="#1c1c1c" stroke-width="0.2" textLength="6" lengthAdjust="spacingAndGlyphs">15</text>
<text x="362.4" y="362.3" font-family="Liberation Sans" font-style="italic" font-weight="normal" font-size="7.36" fill="#1c1c1c" stroke="#1c1c1c" stroke-width="0.2" textLength="15.5" lengthAdjust="spacingAndGlyphs">1460</text>
<text x="437.1" y="361.9" font-family="Liberation Sans" font-style="italic" font-weight="normal" font-size="7.92" fill="#1c1c1c" stroke="#1c1c1c" stroke-width="0.2" textLength="6" lengthAdjust="spacingAndGlyphs">15</text>
<line x1="325.4" y1="362.5" x2="325.4" y2="378.3" stroke="#1c1c1c" stroke-width="0.9"/>
<line x1="432.1" y1="362.5" x2="432.1" y2="378.3" stroke="#1c1c1c" stroke-width="0.9"/>
<line x1="322.9" y1="362.5" x2="322.9" y2="391.4" stroke="#777" stroke-width="0.67"/>
<line x1="322.9" y1="391.4" x2="322.9" y2="415.3" stroke="#1c1c1c" stroke-width="1.12"/>
<line x1="434.7" y1="362.5" x2="434.7" y2="391.4" stroke="#777" stroke-width="0.67"/>
<line x1="434.7" y1="391.4" x2="434.7" y2="415.3" stroke="#1c1c1c" stroke-width="1.12"/>
<line x1="325.4" y1="378.3" x2="434.7" y2="378.3" stroke="#1c1c1c" stroke-width="1.34"/>
<line x1="434.7" y1="378.3" x2="476.2" y2="378.3" stroke="#1c1c1c" stroke-width="0.9"/>
<path d="M 325.4 378.3 L 325.4 389.5 Q 325.4 391.2 322.9 391.5" stroke="#1c1c1c" stroke-width="1.23" fill="none"/>
<path d="M 432.1 378.3 L 432.1 389.5 Q 432.1 391.2 434.7 391.5" stroke="#1c1c1c" stroke-width="1.23" fill="none"/>
<path d="M 322.9 399.6 L 329.3 399.6 L 331.8 389.9 L 333.0 385.8 Q 333.8 381.8 336.6 381.8" stroke="#1c1c1c" stroke-width="1.46" fill="none"/>
<path d="M 422.5 381.8 Q 425.6 381.8 426.2 385.8 L 427.0 391.3 L 428.9 399.6 L 434.7 399.6" stroke="#1c1c1c" stroke-width="1.46" fill="none"/>
<line x1="336.6" y1="381.8" x2="422.5" y2="381.8" stroke="#333" stroke-width="1.12" stroke-dasharray="4 1.8"/>
<line x1="331.8" y1="388.9" x2="426.6" y2="388.9" stroke="#1c1c1c" stroke-width="1.34"/>
<line x1="384.5" y1="371.6" x2="384.5" y2="399.7" stroke="#1c1c1c" stroke-width="0.9"/>
<polygon points="384.5,378.3 383.55,374.5 385.45,374.5" fill="#1c1c1c"/>
<polygon points="384.5,388.9 383.55,392.7 385.45,392.7" fill="#1c1c1c"/>
<text transform="translate(382.2 376.8) rotate(-90)" x="0" y="0" font-family="Liberation Sans" font-style="italic" font-weight="normal" font-size="7.22" fill="#1c1c1c" stroke="#1c1c1c" stroke-width="0.2" textLength="10.3" lengthAdjust="spacingAndGlyphs">140</text>
<line x1="322.9" y1="413.3" x2="434.7" y2="413.3" stroke="#1c1c1c" stroke-width="0.9"/>
<polygon points="322.9,413.3 326.9,412.35 326.9,414.25" fill="#1c1c1c"/>
<polygon points="434.7,413.3 430.7,412.35 430.7,414.25" fill="#1c1c1c"/>
<text x="370.4" y="411.7" font-family="Liberation Sans" font-style="italic" font-weight="normal" font-size="7.64" fill="#1c1c1c" stroke="#1c1c1c" stroke-width="0.2" textLength="15.5" lengthAdjust="spacingAndGlyphs">1490</text>
<line x1="434.7" y1="389.4" x2="455.4" y2="389.4" stroke="#1c1c1c" stroke-width="0.9"/>
<line x1="434.7" y1="392.1" x2="455.4" y2="392.1" stroke="#1c1c1c" stroke-width="0.9"/>
<line x1="434.7" y1="400" x2="476.8" y2="400" stroke="#1c1c1c" stroke-width="0.9"/>
<line x1="453.6" y1="371.6" x2="453.6" y2="406.6" stroke="#1c1c1c" stroke-width="0.9"/>
<polygon points="453.6,378.3 452.65,382.1 454.55,382.1" fill="#1c1c1c"/>
<polygon points="453.6,389.4 452.65,385.6 454.55,385.6" fill="#1c1c1c"/>
<polygon points="453.6,392.1 452.65,395.9 454.55,395.9" fill="#1c1c1c"/>
<polygon points="453.6,400 452.65,396.2 454.55,396.2" fill="#1c1c1c"/>
<line x1="474.5" y1="378.3" x2="474.5" y2="400" stroke="#1c1c1c" stroke-width="1.01"/>
<polygon points="474.5,378.3 473.55,382.1 475.45,382.1" fill="#1c1c1c"/>
<polygon points="474.5,400 473.55,396.2 475.45,396.2" fill="#1c1c1c"/>
<text transform="translate(451.2 388.5) rotate(-90)" x="0" y="0" font-family="Liberation Sans" font-style="italic" font-weight="normal" font-size="6.67" fill="#1c1c1c" stroke="#1c1c1c" stroke-width="0.2" textLength="10.2" lengthAdjust="spacingAndGlyphs">195</text>
<text transform="translate(451.2 399.9) rotate(-90)" x="0" y="0" font-family="Liberation Sans" font-style="italic" font-weight="normal" font-size="6.67" fill="#1c1c1c" stroke="#1c1c1c" stroke-width="0.2" textLength="6.9" lengthAdjust="spacingAndGlyphs">90</text>
<text transform="translate(459.6 388.2) rotate(-90)" x="0" y="0" font-family="Liberation Sans" font-style="italic" font-weight="normal" font-size="7.08" fill="#1c1c1c" stroke="#1c1c1c" stroke-width="0.2" textLength="5.9" lengthAdjust="spacingAndGlyphs">15</text>
<text transform="translate(472.1 394.4) rotate(-90)" x="0" y="0" font-family="Liberation Sans" font-style="italic" font-weight="normal" font-size="7.08" fill="#1c1c1c" stroke="#1c1c1c" stroke-width="0.2" textLength="12.1" lengthAdjust="spacingAndGlyphs">300</text>
<circle cx="461.5" cy="402.5" r="0.5" fill="#555"/>
</svg>
</body></html>
